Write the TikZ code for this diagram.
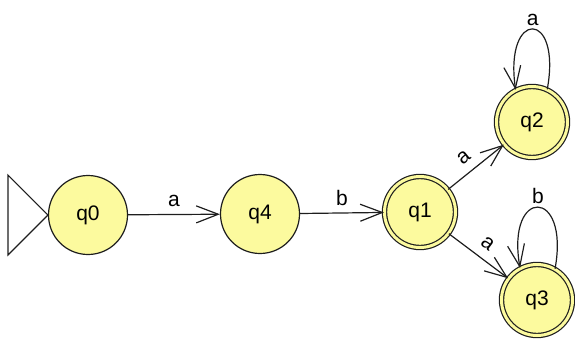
\documentclass[tikz,border=0pt]{standalone}
\usepackage{fontspec}
\setmainfont{Liberation Sans}
\usetikzlibrary{arrows.meta}
\definecolor{statefill}{RGB}{252,250,158}
\definecolor{edgecol}{RGB}{30,30,30}
\begin{document}
\begin{tikzpicture}[x=1pt,y=-1pt,
  state/.style={circle,draw=edgecol,line width=1.2pt,fill=statefill,minimum size=79pt,inner sep=0pt,font=\fontsize{21}{24}\selectfont},
  accstate/.style={state,minimum size=71pt,double=statefill,double distance=3pt},
  trans/.style={draw=edgecol,line width=1.2pt,-{Straight Barb[length=22pt,width=17pt,line width=1.2pt]}},
  lbl/.style={font=\fontsize{21}{24}\selectfont,inner sep=2pt}]
\useasboundingbox (0,0) rectangle (575,343);
\node[state] (q0) at (88,215) {q0};
\node[state] (q4) at (260,214) {q4};
\node[accstate] (q1) at (420,212) {q1};
\node[accstate] (q2) at (532,122) {q2};
\node[accstate] (q3) at (537,300) {q3};
\draw[edgecol,line width=1.2pt] (q0.west) -- ++(-40,-40) -- ++(0,80) -- cycle;
\draw[trans] (q0) -- node[lbl,above=5pt] {a} (q4);
\draw[trans] (q4) -- node[lbl,above=5pt] {b} (q1);
\draw[trans] (q1) -- node[lbl,sloped,above=7pt,pos=0.45] {a} (q2);
\draw[trans] (q1) -- node[lbl,sloped,above=7pt] {a} (q3);
\draw[trans] (q2.65) .. controls (562,9) and (504,9) .. node[lbl,above=1pt] {a} (q2.117);
\draw[trans] (q3.60) .. controls (570,187) and (506,187) .. node[lbl,above=1pt] {b} (q3.118);
\end{tikzpicture}
\end{document}
